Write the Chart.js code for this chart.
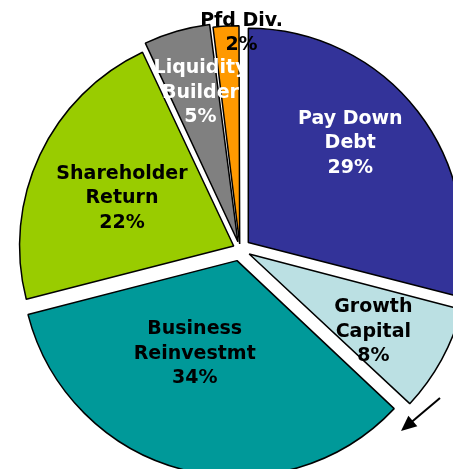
<!DOCTYPE html>
<html>
<head>
<meta charset="utf-8">
<script src="https://cdn.jsdelivr.net/npm/chart.js@4.4.1/dist/chart.umd.min.js"></script>
<style>
  html, body { margin: 0; padding: 0; background: #fff; }
  #wrap { position: relative; width: 453px; height: 469px; overflow: hidden; }
  #pieChart { position: absolute; left: 0; top: 0; }
</style>
</head>
<body>
<div id="wrap">
  <canvas id="pieChart" width="480" height="498"></canvas>
</div>
<script>
// Slice names (split into lines as on the slide)
const categories = [
  ["Pay Down", "Debt"],
  ["Growth", "Capital"],
  ["Business", "Reinvestmt"],
  ["Shareholder", "Return"],
  ["Liquidity", "Builder"],
  ["Pfd Div."],
];

// Share of each use, in percent
const shares = [29, 8, 34, 22, 5, 2];

// Slice colours and label text colours
const sliceColors = ["#333399", "#bbe0e3", "#009999", "#99cc00", "#808080", "#ff9900"];
const textColors = ["#ffffff", "#000000", "#000000", "#000000", "#ffffff", "#000000"];

// How far each slice is pulled out (Chart.js draws offset / 4 px)
const sliceOffsets = [42, 42, 48, 28, 30, 20];

// Label placement: fraction of radius, angle nudge in degrees
const labelRadius = [0.714, 0.733, 0.533, 0.6, 0.753, 1.01];
const labelNudge = [-6, 3, 9, -2, 2, 4];

const labelPlugin = {
  id: "sliceLabels",
  afterDatasetsDraw(chart) {
    const ctx = chart.ctx;
    const arcs = chart.getDatasetMeta(0).data;
    ctx.save();
    ctx.font = "bold 19px 'DejaVu Sans'";
    ctx.textAlign = "center";
    ctx.textBaseline = "middle";
    arcs.forEach((arc, i) => {
      const p = arc.getProps(["x", "y", "startAngle", "endAngle", "outerRadius"], true);
      const mid = (p.startAngle + p.endAngle) / 2 + (labelNudge[i] * Math.PI) / 180;
      const r = p.outerRadius * labelRadius[i];
      const lx = p.x + Math.cos(mid) * r;
      const ly = p.y + Math.sin(mid) * r;
      const lines = categories[i].concat([shares[i] + "%"]);
      const lh = 24.5;
      const top = ly - ((lines.length - 1) * lh) / 2;
      ctx.fillStyle = textColors[i];
      lines.forEach((t, k) => ctx.fillText(t, lx, top + k * lh));
    });
    ctx.restore();
  },
  afterDraw(chart) {
    // little pointer arrow at lower right
    const ctx = chart.ctx;
    const c = chart.getDatasetMeta(0).data[0];
    const x1 = c.x + 200, y1 = c.y + 149;
    const x2 = c.x + 161, y2 = c.y + 182;
    const ang = Math.atan2(y2 - y1, x2 - x1);
    ctx.save();
    ctx.strokeStyle = "#000";
    ctx.fillStyle = "#000";
    ctx.lineWidth = 2;
    ctx.beginPath();
    ctx.moveTo(x1, y1);
    ctx.lineTo(x2 - Math.cos(ang) * 10, y2 - Math.sin(ang) * 10);
    ctx.stroke();
    ctx.beginPath();
    ctx.moveTo(x2, y2);
    ctx.lineTo(x2 - Math.cos(ang - 0.42) * 17, y2 - Math.sin(ang - 0.42) * 17);
    ctx.lineTo(x2 - Math.cos(ang + 0.42) * 17, y2 - Math.sin(ang + 0.42) * 17);
    ctx.closePath();
    ctx.fill();
    ctx.restore();
  },
};

const pieCtx = document.getElementById("pieChart").getContext("2d");

const myPieChart = new Chart(pieCtx, {
  type: "pie",
  data: {
    labels: categories.map((c) => c.join(" ")),
    datasets: [
      {
        data: shares,
        backgroundColor: sliceColors,
        borderColor: "#000000",
        borderWidth: 1.5,
        offset: sliceOffsets,
        hoverOffset: 0,
        radius: 214,
      },
    ],
  },
  options: {
    responsive: false,
    animation: false,
    events: [],
    layout: { padding: 0 },
    plugins: {
      legend: { display: false },
      tooltip: { enabled: false },
    },
  },
  plugins: [labelPlugin],
});
</script>
</body>
</html>
